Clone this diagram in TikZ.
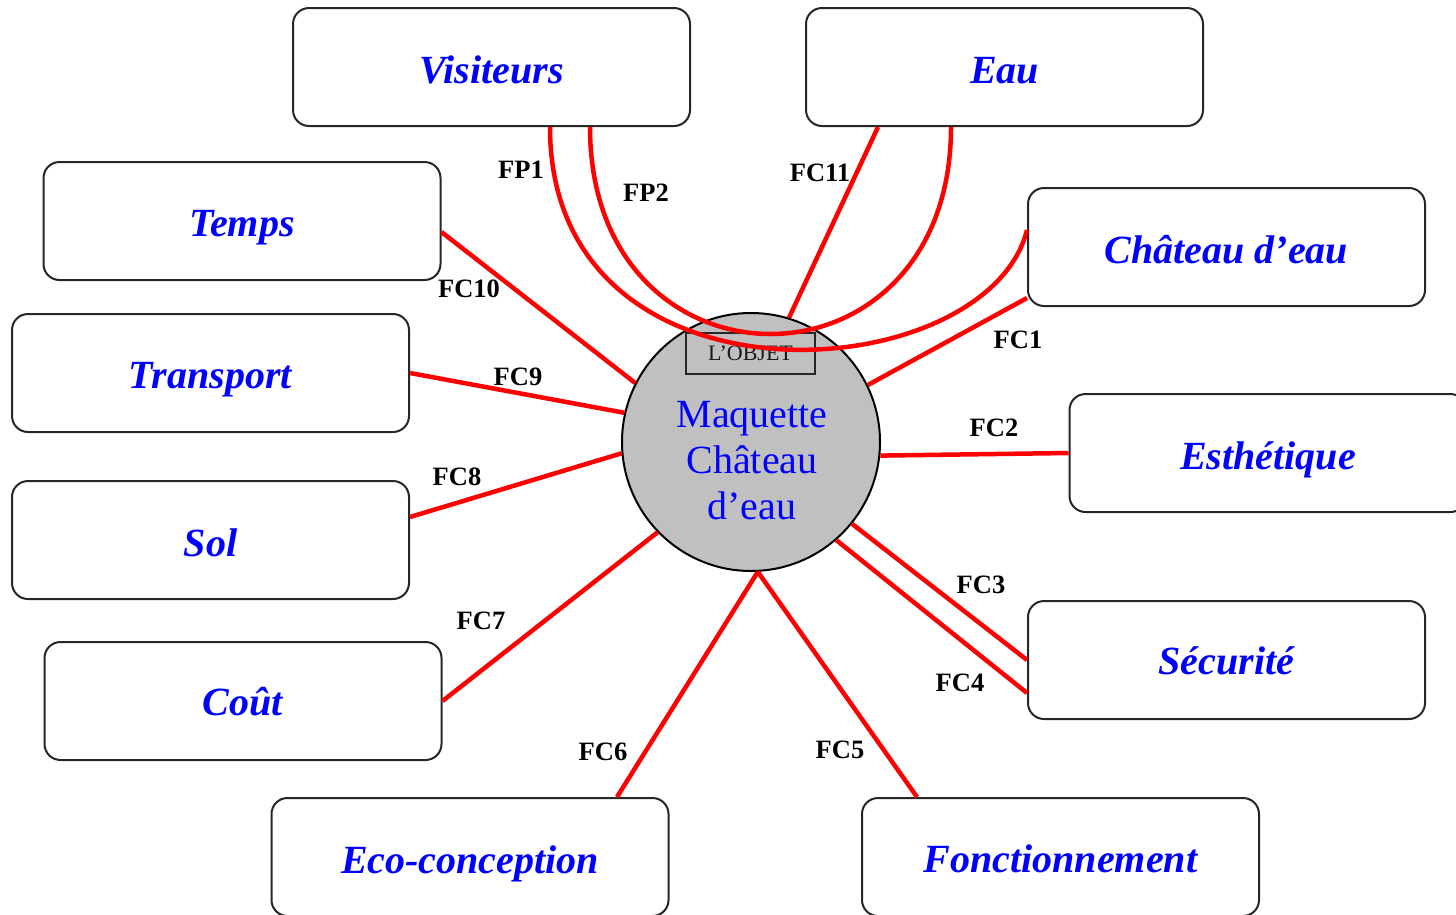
\documentclass[tikz,border=0pt]{standalone}
\usepackage{fontspec}
\setmainfont{Liberation Serif}
\usetikzlibrary{calc}
\definecolor{tblue}{RGB}{0,0,255}
\definecolor{tred}{RGB}{255,0,0}
\definecolor{cgray}{RGB}{192,192,192}
\newcommand{\dn}[2]{\raisebox{-#1pt}[\height][\depth]{#2}}
\begin{document}
\begin{tikzpicture}[x=1pt,y=-1pt,
  boxnode/.style={draw=black!85, line width=2pt, rounded corners=16pt, fill=white,
    minimum width=397pt, minimum height=118pt, inner sep=0pt,
    text=tblue, font=\fontsize{40}{46}\selectfont\bfseries\itshape},
  link/.style={draw=tred, line width=4.5pt},
  lab/.style={font=\fontsize{26.5}{30}\selectfont\bfseries, text=black, inner sep=0pt}]
\useasboundingbox (0,0) rectangle (1456,914);
% central object
\node[circle, draw=black, line width=2pt, fill=cgray, minimum size=258pt, inner sep=0pt] (c) at (751,442) {};
\node[draw=black!85, line width=1.2pt, minimum width=129pt, minimum height=41pt, inner sep=0pt,
  font=\fontsize{22}{24}\selectfont, text=black!90] (obj) at (750.5,353.5) {L'OBJET};
\node[align=center, text=tblue, font=\fontsize{40}{46}\selectfont, inner sep=0pt] (ctext) at (752,461) {Maquette\\Château\\d’eau};
% boxes
\node[boxnode] (vis) at (491.5,67) {\dn{3}{Visiteurs}};
\node[boxnode] (eau) at (1004.5,67) {\dn{4}{Eau}};
\node[boxnode] (temps) at (242,221) {\dn{7}{Temps}};
\node[boxnode] (chat) at (1226.5,247) {\dn{3}{Château d’eau}};
\node[boxnode] (trans) at (210.5,373) {\dn{7}{Transport}};
\node[boxnode] (esth) at (1268,453) {\dn{7}{Esthétique}};
\node[boxnode] (sol) at (210.5,540) {\dn{3}{Sol}};
\node[boxnode] (secu) at (1226.5,660) {\dn{1}{Sécurité}};
\node[boxnode] (cout) at (243,701) {\dn{1}{Coût}};
\node[boxnode] (eco) at (470,857) {\dn{7}{Eco-conception}};
\node[boxnode] (fonc) at (1060.5,857) {\dn{2}{Fonctionnement}};
% connectors
\draw[link] ([xshift=73pt]eau.south west) -- (c.73);
\draw[link] ([yshift=-11pt]temps.east) -- (c.153.6);
\draw[link] (trans.east) -- (c.167);
\draw[link] ([yshift=23pt]sol.east) -- (c.185);
\draw[link] (cout.east) -- (c.224);
\draw[link] ([xshift=147pt]eco.north) -- (c.273);
\draw[link] (c.273) -- ([xshift=-143.5pt]fonc.north);
\draw[link] (c.311) -- ([yshift=-33pt]secu.west);
\draw[link] (c.321) -- (secu.west);
\draw[link] (c.354) -- (esth.west);
\draw[link] (c.26) -- ([yshift=-51pt]chat.west);
% FP curves
\draw[link] ([xshift=258pt]vis.south west) .. controls +(0,294) and +(-40,160) .. ([yshift=17pt]chat.west);
\draw[link] ([xshift=298pt]vis.south west) .. controls +(0,276) and +(0,276) .. ([xshift=146pt]eau.south west);
% labels
\node[lab] (lfp1) at (521,170) {FP1};
\node[lab] (lfp2) at (646,193) {FP2};
\node[lab] (lfc11) at (820,173) {FC11};
\node[lab] (lfc10) at (469,289) {FC10};
\node[lab] (lfc9) at (518,377) {FC9};
\node[lab] (lfc1) at (1018,340) {FC1};
\node[lab] (lfc2) at (994,428) {FC2};
\node[lab] (lfc8) at (457,477) {FC8};
\node[lab] (lfc3) at (981,585) {FC3};
\node[lab] (lfc7) at (481,621) {FC7};
\node[lab] (lfc4) at (960,683) {FC4};
\node[lab] (lfc6) at (603,752) {FC6};
\node[lab] (lfc5) at (840,750) {FC5};
\end{tikzpicture}
\end{document}
